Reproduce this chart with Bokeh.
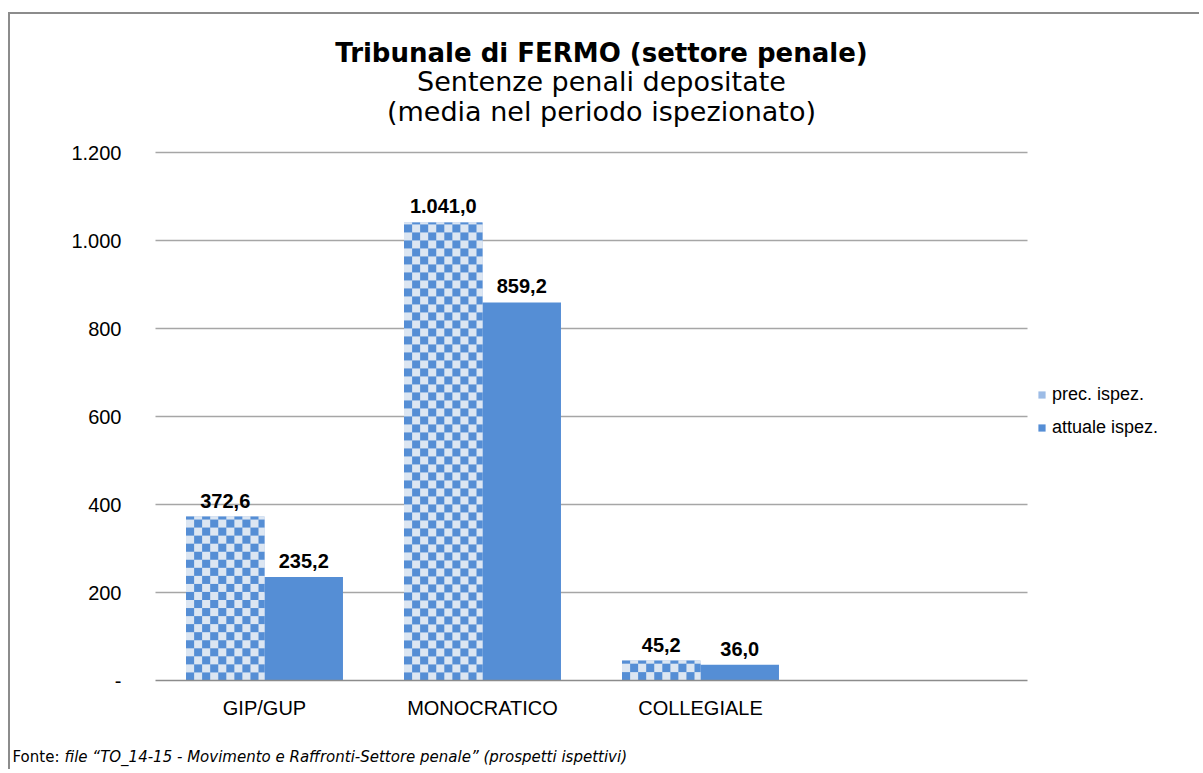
import numpy as np
from bokeh.plotting import figure
from bokeh.models import (ColumnDataSource, Range1d, FixedTicker, Legend, LegendItem, Label)
from bokeh.core.properties import value
from bokeh.embed import file_html
from bokeh.resources import INLINE

# ---- data ----
categories = ["GIP/GUP", "MONOCRATICO", "COLLEGIALE"]
prec = [372.6, 1041.0, 45.2]
attuale = [235.2, 859.2, 36.0]
series_names = ["prec. ispez.", "attuale ispez."]
y_ticks = [0, 200, 400, 600, 800, 1000, 1200]
y_tick_labels = ["-", "200", "400", "600", "800", "1.000", "1.200"]

title_text = "Tribunale di FERMO (settore penale)"
subtitle_1 = "Sentenze penali depositate"
subtitle_2 = "(media nel periodo ispezionato)"
footer_a = "Fonte:"
footer_b = "file \u201cTO_14-15 - Movimento e Raffronti-Settore penale\u201d (prospetti ispettivi)"


def it_fmt(v):
    s = f"{v:,.1f}"
    return s.replace(",", "X").replace(".", ",").replace("X", ".")


n_slots = len(categories) + 1          # one empty slot on the right
xc = [i + 0.5 for i in range(len(categories))]
bw = 0.36

# layout (figure pixels; the figure content starts at page (10, 14))
OX, OY = 10, 14
W, H = 1191, 757
AX, BASE = 145, 666              # value axis (slot 0) / baseline (value 0) in figure px
PX_SLOT = 218.0                  # pixels per category slot
PX_UNIT = 528.0 / 1200.0         # pixels per value unit
x_start = -AX / PX_SLOT
x_end = (W - AX) / PX_SLOT
y_end = BASE / PX_UNIT
y_start = -(H - BASE) / PX_UNIT


def dx(page_x):
    return (page_x - OX - AX) / PX_SLOT


def dy(page_y):
    return (BASE - (page_y - OY)) / PX_UNIT


src = ColumnDataSource(dict(
    xp=[x - bw / 2 for x in xc], xa=[x + bw / 2 for x in xc],
    prec=prec, attuale=attuale,
    prec_lbl=[it_fmt(v) for v in prec],
    att_lbl=[it_fmt(v) for v in attuale],
))

p = figure(x_range=Range1d(x_start, x_end), y_range=Range1d(y_start, y_end), title=None,
           width=W, height=H, output_backend="svg", toolbar_location=None,
           min_border_left=0, min_border_right=0, min_border_top=0,
           min_border_bottom=0)
p.styles = {"border-left": "2px solid #8c8c8c", "border-top": "2px solid #8c8c8c",
            "margin-left": "8px", "margin-top": "12px"}
p.outline_line_color = None
p.background_fill_color = "white"
p.border_fill_color = "white"

BLUE = "#558ED5"

# horizontal gridlines limited to the category slots
grid_y = y_ticks[1:]
p.segment(x0=[0] * len(grid_y), x1=[n_slots] * len(grid_y), y0=grid_y, y1=grid_y,
          line_color="#A6A6A6", line_width=1.3)

# bars (also used for the legend)
r1 = p.vbar(x="xp", top="prec", width=bw, source=src, fill_color="#9DBCE6", line_color=None)
r2 = p.vbar(x="xa", top="attuale", width=bw, source=src, fill_color=BLUE, line_color=None)

# checkerboard texture of the "prec" bars, drawn as images sized to each bar
cell = 8
imgs, ix, idw, idh = [], [], [], []
dark = np.array([0x55, 0x8E, 0xD5, 255], dtype=np.uint8)
light = np.array([0xDC, 0xE6, 0xF2, 255], dtype=np.uint8)
for x, v in zip(src.data["xp"], prec):
    wpx = max(1, int(round(bw * PX_SLOT)))
    hpx = max(1, int(round(v * PX_UNIT)))
    ii, jj = np.indices((hpx, wpx))
    chk = ((ii // cell) + (jj // cell)) % 2
    rgba = np.zeros((hpx, wpx, 4), dtype=np.uint8)
    rgba[chk == 0] = dark
    rgba[chk == 1] = light
    imgs.append(rgba.view(dtype=np.uint32).reshape((hpx, wpx)))
    ix.append(x - bw / 2)
    idw.append(bw)
    idh.append(v)
p.image_rgba(image=imgs, x=ix, y=[0] * len(imgs), dw=idw, dh=idh)

lbl_kw = dict(text_font=value("Liberation Sans"), text_font_style="bold",
              text_font_size="20px", text_align="center", text_baseline="bottom",
              text_color="black", y_offset=-9)
p.text(x="xp", y="prec", text="prec_lbl", source=src, **lbl_kw)
p.text(x="xa", y="attuale", text="att_lbl", source=src, **lbl_kw)

# axes (both fixed inside the frame)
p.yaxis.fixed_location = 0
p.yaxis.ticker = FixedTicker(ticks=y_ticks)
p.yaxis.major_label_overrides = {t: l for t, l in zip(y_ticks, y_tick_labels)}
p.yaxis.axis_line_color = None
p.yaxis.major_tick_line_color = None
p.yaxis.minor_tick_line_color = None
p.yaxis.major_tick_out = 0
p.yaxis.minor_tick_out = 0
p.yaxis.major_label_standoff = 34
p.yaxis.major_label_text_font = "Liberation Sans"
p.yaxis.major_label_text_font_size = "20px"
p.yaxis.major_label_text_color = "black"

p.xaxis.fixed_location = 0
p.xaxis.ticker = FixedTicker(ticks=xc)
p.xaxis.major_label_overrides = {x: c for x, c in zip(xc, categories)}
p.xaxis.bounds = (0, n_slots)
p.xaxis.axis_line_color = "#8c8c8c"
p.xaxis.axis_line_width = 1.5
p.xaxis.major_tick_line_color = None
p.xaxis.minor_tick_line_color = None
p.xaxis.major_tick_out = 0
p.xaxis.minor_tick_out = 0
p.xaxis.major_label_standoff = 16
p.xaxis.major_label_text_font = "Liberation Sans"
p.xaxis.major_label_text_font_size = "20px"
p.xaxis.major_label_text_color = "black"

p.xgrid.grid_line_color = None
p.ygrid.grid_line_color = None

# titles
title_x = dx(601)
p.add_layout(Label(x=title_x, y=dy(52), text=title_text, text_font="DejaVu Sans",
                   text_font_style="bold", text_font_size="26px", text_color="black",
                   text_align="center", text_baseline="middle"))
p.add_layout(Label(x=title_x, y=dy(81), text=subtitle_1, text_font="DejaVu Sans",
                   text_font_size="27px", text_color="black",
                   text_align="center", text_baseline="middle"))
p.add_layout(Label(x=title_x, y=dy(111), text=subtitle_2, text_font="DejaVu Sans",
                   text_font_size="27px", text_color="black",
                   text_align="center", text_baseline="middle"))

# footer
p.add_layout(Label(x=dx(12), y=dy(756), text=footer_a, text_font="DejaVu Sans",
                   text_font_size="15px", text_color="black",
                   text_align="left", text_baseline="middle"))
p.add_layout(Label(x=dx(64), y=dy(756), text=footer_b, text_font="DejaVu Sans",
                   text_font_style="italic", text_font_size="15px", text_color="black",
                   text_align="left", text_baseline="middle"))

legend = Legend(items=[LegendItem(label=series_names[0], renderers=[r1]),
                       LegendItem(label=series_names[1], renderers=[r2])],
                location=(AX + 882, 242 + (H - BASE)), orientation="vertical",
                glyph_width=9, glyph_height=9, label_height=22, spacing=11,
                label_standoff=6, padding=0, margin=0,
                border_line_color=None, background_fill_alpha=0,
                label_text_font="Liberation Sans", label_text_font_size="18px",
                label_text_color="black")
p.add_layout(legend)

open("out.html", "w").write(file_html(p, INLINE))
